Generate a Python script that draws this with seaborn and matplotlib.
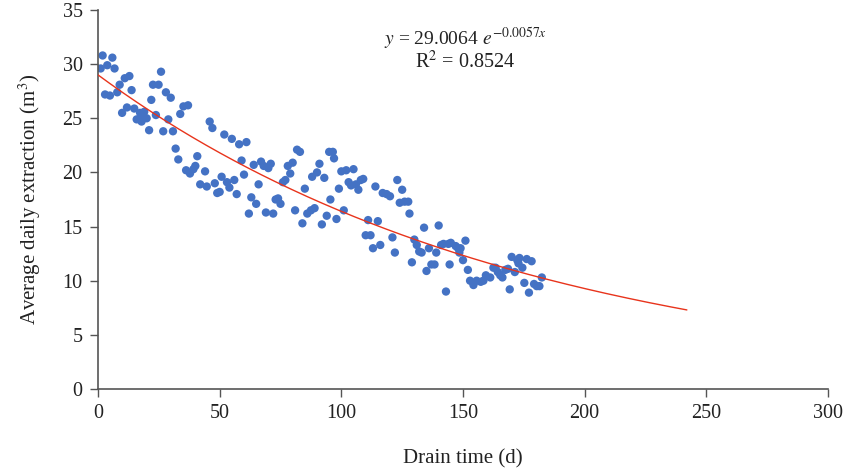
import numpy as np
import pandas as pd
import matplotlib
matplotlib.use("Agg")
import matplotlib.pyplot as plt
import seaborn as sns

# ---- data ----
drain_time = [1.1, 1.9, 2.9, 3.8, 4.9, 5.9, 6.8, 7.9, 8.9, 9.9, 11.0, 11.9, 12.9, 13.8, 14.9,
              15.9, 17.3, 17.9, 18.6, 19.0, 20.0, 21.0, 21.9, 22.6, 23.8, 24.9, 25.9, 26.8,
              27.9, 28.9, 29.9, 30.8, 31.9, 33.0, 33.8, 35.1, 36.2, 37.0, 37.8, 39.2, 40.0,
              40.8, 42.0, 44.0, 44.7, 45.9, 47.0, 48.0, 49.0, 50.0, 50.8, 51.9, 53.0, 54.0,
              55.0, 56.0, 57.0, 58.0, 59.0, 60.0, 61.0, 62.0, 63.0, 64.0, 65.0, 66.0, 67.0,
              68.1, 69.0, 70.0, 71.0, 72.0, 73.0, 74.0, 75.0, 76.0, 77.0, 78.0, 79.0, 80.0,
              81.0, 81.8, 83.0, 84.0, 85.0, 86.0, 87.5, 88.0, 89.0, 90.0, 91.0, 92.0, 93.0,
              94.0, 95.0, 95.5, 96.5, 97.0, 98.0, 99.0, 100.0, 101.0, 102.0, 103.0, 104.0,
              105.0, 106.0, 107.0, 108.0, 109.0, 110.0, 111.0, 112.0, 113.0, 114.0, 115.0,
              116.0, 117.0, 118.6, 120.0, 121.0, 122.0, 123.0, 124.0, 125.0, 126.0, 127.5,
              128.0, 129.0, 130.0, 131.0, 132.0, 133.0, 134.0, 135.0, 136.0, 137.0, 138.3,
              139.0, 140.0, 141.0, 142.0, 143.0, 144.0, 144.5, 145.0, 147.0, 148.0, 148.5,
              149.0, 150.0, 151.0, 152.0, 152.9, 154.3, 155.6, 157.3, 158.4, 159.4, 161.2,
              162.5, 163.4, 164.3, 165.3, 166.2, 167.4, 168.5, 169.2, 170.0, 171.3, 172.3,
              172.8, 173.2, 174.4, 175.2, 176.2, 177.1, 178.2, 179.2, 180.3, 181.4, 182.4]
extraction = [29.6, 30.8, 27.2, 29.9, 27.1, 30.6, 29.6, 27.4, 28.1, 25.5, 28.7, 26.0, 28.9, 27.6, 25.9,
              24.9, 25.5, 24.7, 25.1, 25.6, 25.0, 23.9, 26.7, 28.1, 25.3, 28.1, 29.3, 23.8,
              27.4, 24.9, 26.9, 23.8, 22.2, 21.2, 25.4, 26.1, 20.2, 26.2, 19.9, 20.3, 20.6,
              21.5, 18.9, 20.1, 18.7, 24.7, 24.1, 19.0, 18.1, 18.2, 19.6, 23.5, 19.1, 18.6,
              23.1, 19.3, 18.0, 22.6, 21.1, 19.8, 22.8, 16.2, 17.7, 20.7, 17.1, 18.9, 21.0,
              20.6, 16.3, 20.4, 20.8, 16.2, 17.5, 17.6, 17.1, 19.1, 19.3, 20.6, 19.9, 20.9,
              16.5, 22.1, 21.9, 15.3, 18.5, 16.2, 16.5, 19.6, 16.7, 20.0, 20.8, 15.2, 19.5,
              16.0, 21.9, 17.5, 21.9, 21.3, 15.7, 18.5, 20.1, 16.5, 20.2, 19.1, 18.8,
              20.3, 18.9, 18.4, 19.3, 19.4, 14.2, 15.6, 14.2, 13.0, 18.7, 15.5,
              13.3, 18.1, 18.0, 17.8, 14.0, 12.6, 19.3, 17.2, 18.4, 17.3, 17.3,
              16.2, 11.7, 13.8, 13.3, 12.7, 12.6, 14.9, 10.9, 13.0, 11.5, 11.5,
              12.6, 15.1, 13.3, 13.4, 9.0, 13.4, 11.5, 13.5, 13.2, 13.0, 12.6,
              13.0, 11.9, 13.7, 11.0, 10.0, 9.6, 10.0, 9.9, 10.0, 10.5, 10.3,
              11.2, 11.2, 10.8, 10.5, 10.3, 11.0, 11.1, 9.2, 12.2, 10.8, 11.9,
              11.6, 12.1, 11.2, 9.8, 12.0, 8.9, 11.8, 9.7, 9.5, 9.5, 10.3]

fit_a = 29.0064
fit_b = -0.0057
fit_x_max = 242
x_ticks = [0, 50, 100, 150, 200, 250, 300]
y_ticks = [0, 5, 10, 15, 20, 25, 30, 35]

df = pd.DataFrame({"t": drain_time, "q": extraction})
fit_x = np.linspace(0, fit_x_max, 300)
fit_df = pd.DataFrame({"t": fit_x, "q": fit_a * np.exp(fit_b * fit_x)})

sns.set_theme(style="ticks")
plt.rcParams["font.family"] = ["Liberation Serif", "DejaVu Serif"]
plt.rcParams["mathtext.fontset"] = "stix"

fig = plt.figure(figsize=(8.48, 4.72), dpi=100)
ax = fig.add_axes([98 / 848, 1 - 389 / 472, 730 / 848, 379 / 472])

sns.scatterplot(data=df, x="t", y="q", ax=ax, color="#4472C4", s=36,
                edgecolor="none", linewidth=0, zorder=2)
sns.lineplot(data=fit_df, x="t", y="q", ax=ax, color="#E8341C", linewidth=1.0, zorder=3)

ax.set_xlim(0, 300)
ax.set_ylim(0, 35)
ax.set_xticks(x_ticks)
ax.set_yticks(y_ticks)
ax.tick_params(axis="both", direction="out", length=6, width=1, color="#555555",
               labelsize=14.5, labelcolor="#222222", pad=5)
for side in ["top", "right"]:
    ax.spines[side].set_visible(False)
for side in ["left", "bottom"]:
    ax.spines[side].set_color("#555555")
    ax.spines[side].set_linewidth(1.2)

ax.set_xlabel("Drain time (d)", fontsize=15, color="#222222", labelpad=19)
ax.set_ylabel("Average daily extraction (m$^3$)", fontsize=15, color="#222222", labelpad=14)

ax.text(151, 32.3, r"$y$ = 29.0064 $e^{-0.0057x}$", ha="center", va="center",
        fontsize=14, color="#222222")
ax.text(151, 30.2, r"R$^2$ = 0.8524", ha="center", va="center",
        fontsize=14.5, color="#222222")

fig.savefig("out.png", dpi=100)
